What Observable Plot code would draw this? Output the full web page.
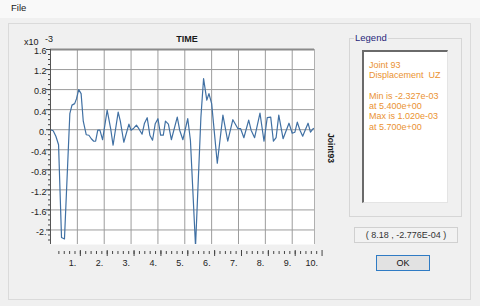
<!DOCTYPE html>
<html><head><meta charset="utf-8">
<script src="https://cdn.jsdelivr.net/npm/d3@7"></script>
<script src="https://cdn.jsdelivr.net/npm/@observablehq/plot@0.6"></script>
<style>
html,body{margin:0;padding:0;background:#f0f0f0;}
#win{position:relative;width:480px;height:306px;overflow:hidden;background:#f0f0f0;font-family:"Liberation Sans",Arial,sans-serif;color:#1a1a1a;}
.abs{position:absolute;white-space:pre;}
#menubar{left:0;top:0;width:480px;height:18px;background:#f9f9f9;}
#outer{left:8px;top:23px;width:463px;height:277px;border:1px solid #dadada;box-sizing:border-box;}
#legbox{left:349px;top:38px;width:113px;height:179px;border:1px solid #d6d6d6;box-sizing:border-box;}
#leglabel{left:354px;top:32px;font-size:9.5px;color:#27277a;background:#f0f0f0;padding:0 1px;}
#white{left:362px;top:50px;width:86px;height:153px;background:#fff;border-left:2px solid #6a6a6a;border-top:2px solid #6a6a6a;border-right:1px solid #e4e4e4;border-bottom:1px solid #e4e4e4;box-sizing:border-box;}
#legtext{left:369px;top:60px;font-size:9px;line-height:10.3px;color:#ea9232;}
#coord{left:354px;top:227px;width:104px;height:16px;border:1px solid #d0d0d0;box-sizing:border-box;font-size:9px;line-height:14px;text-align:center;color:#333;background:#f2f2f2;}
#ok{left:376px;top:255px;width:54px;height:16px;border:1px solid #2f7bc4;box-sizing:border-box;background:#e2e2e2;font-size:9px;line-height:14px;text-align:center;color:#111;}
#svgwrap{position:absolute;left:0;top:0;}
</style></head>
<body>
<div id="win">
  <div class="abs" id="menubar"></div>
  <div class="abs" style="left:11px;top:2px;font-size:9.5px;">File</div>
  <div class="abs" id="outer"></div>
  <div class="abs" id="legbox"></div>
  <div class="abs" id="leglabel">Legend</div>
  <div class="abs" id="white"></div>
  <div class="abs" id="legtext"></div>
  <div class="abs" id="coord"></div>
  <div class="abs" id="ok">OK</div>
  <div id="svgwrap"></div>
  <div class="abs" style="left:24px;top:37px;font-size:9px;">x10</div>
  <div class="abs" style="left:45px;top:34px;font-size:9px;">-3</div>
  <div class="abs" style="left:166px;top:34px;font-size:9px;font-weight:bold;width:42px;text-align:center;">TIME</div>
  <div class="abs" style="left:331px;top:148px;font-size:8.5px;font-weight:bold;transform:translate(-50%,-50%) rotate(90deg);">Joint93</div>
</div>
<script>
// time (s) and displacement UZ (x10^-3)
const time = [0, 0.1, 0.2, 0.3, 0.41, 0.52, 0.72, 0.8, 0.9, 0.97, 1.05, 1.14, 1.22, 1.33, 1.43, 1.52, 1.61, 1.68, 1.76, 1.84, 1.94, 2.11, 2.24, 2.33, 2.52, 2.6, 2.73, 2.92, 3.0, 3.1, 3.2, 3.29, 3.41, 3.5, 3.6, 3.7, 3.8, 3.9, 4.0, 4.1, 4.2, 4.28, 4.39, 4.5, 4.72, 4.81, 4.93, 5.11, 5.21, 5.4, 5.6, 5.7, 5.82, 5.9, 6.0, 6.21, 6.42, 6.6, 6.79, 6.98, 7.08, 7.2, 7.38, 7.47, 7.6, 7.8, 7.95, 8.07, 8.2, 8.3, 8.4, 8.5, 8.66, 8.88, 9.0, 9.1, 9.19, 9.29, 9.39, 9.59, 9.68, 9.78, 9.83];
const uz = [0, -0.02, -0.13, -0.3, -2.15, -2.18, 0.32, 0.49, 0.52, 0.62, 0.80, 0.72, 0.17, -0.1, -0.11, -0.18, -0.23, -0.23, -0.01, -0.01, -0.2, 0.39, 0.02, -0.31, 0.35, 0.17, -0.25, 0.11, -0.01, 0.03, 0.09, 0.02, -0.09, 0.13, 0.24, -0.11, -0.21, 0.12, 0.22, -0.11, -0.11, 0.17, 0.11, -0.2, 0.25, -0.01, -0.2, 0.22, -0.21, -2.327, 0.25, 1.02, 0.59, 0.72, 0.52, -0.67, 0.29, -0.23, 0.2, 0.02, 0.02, -0.16, 0.19, -0.01, -0.16, 0.33, -0.23, 0.24, 0.25, -0.23, -0.16, 0.29, -0.18, 0.13, -0.07, -0.05, 0.15, -0.01, -0.13, 0.13, -0.05, 0.02, 0.03];

const xTicks = [1, 2, 3, 4, 5, 6, 7, 8, 9, 10];
const xTickLabels = ["1.", "2.", "3.", "4.", "5.", "6.", "7.", "8.", "9.", "10."];
const yTicks = [1.6, 1.2, 0.8, 0.4, 0, -0.4, -0.8, -1.2, -1.6, -2.0];
const yTickLabels = ["1.6", "1.2", "0.8", "0.4", "0.", "-0.4", "-0.8", "-1.2", "-1.6", "-2."];

const legendLines = ["Joint 93", "Displacement  UZ", "", "Min is -2.327e-03", "at 5.400e+00", "Max is 1.020e-03", "at 5.700e+00"];
const cursorText = "( 8.18 , -2.776E-04 )";

document.getElementById("legtext").textContent = legendLines.join("\n");
document.getElementById("coord").textContent = cursorText;

const xMax = 9.83, yMin = -2.29, yMax = 1.6;
const data = time.map((t, i) => ({t, v: uz[i]}));
const gridXs = xTicks.filter(d => d < xMax);
const gridYs = yTicks.filter(d => d < yMax && d > yMin);
const xMinor = d3.range(0.2, 10.01, 0.2).filter(d => d < xMax + 0.15);
const yMinor = d3.range(-22, 17, 1).map(d => d / 10);

const chart = Plot.plot({
  width: 480, height: 306,
  marginLeft: 50, marginRight: 166, marginTop: 49, marginBottom: 62,
  x: {domain: [0, xMax], label: null},
  y: {domain: [yMin, yMax], label: null},
  style: {background: "transparent", fontFamily: "Liberation Sans, Arial, sans-serif", fontSize: "9px", color: "#1a1a1a", overflow: "visible"},
  marks: [
    Plot.frame({fill: "white", stroke: "none"}),
    Plot.gridX(gridXs, {stroke: "#9c9c9c", strokeOpacity: 1}),
    Plot.gridY(gridYs, {stroke: "#9c9c9c", strokeOpacity: 1}),
    Plot.ruleX([xMax], {stroke: "#b0b0b0"}),
    Plot.ruleY([yMax], {stroke: "#8a8a8a", strokeWidth: 2}),
    Plot.line(data, {x: "t", y: "v", stroke: "#4070a3", strokeWidth: 1.2, clip: true}),
    Plot.ruleX([0], {stroke: "#555"}),
    Plot.axisY(yMinor, {tickSize: 2, text: null, stroke: "#444", label: null}),
    Plot.axisY(yTicks, {tickSize: 4, text: null, stroke: "#444", label: null}),
    Plot.axisY(yTicks, {tickSize: 0, tickPadding: 4, dy: 2, tickFormat: d => yTickLabels[yTicks.indexOf(d)], label: null, fill: "#222"}),
    Plot.axisX(xMinor, {tickSize: 3, dy: 7, dx: 3, text: null, stroke: "#444", label: null}),
    Plot.axisX(xTicks, {tickSize: 6, dy: 6, dx: 3, text: null, stroke: "#444", label: null}),
    Plot.text(xTicks, {x: d => d, y: yMin, dy: 19, dx: -1, text: (d, i) => xTickLabels[i], textAnchor: "end", lineAnchor: "middle", fill: "#222"})
  ]
});
document.getElementById("svgwrap").appendChild(chart);
</script>
</body></html>
